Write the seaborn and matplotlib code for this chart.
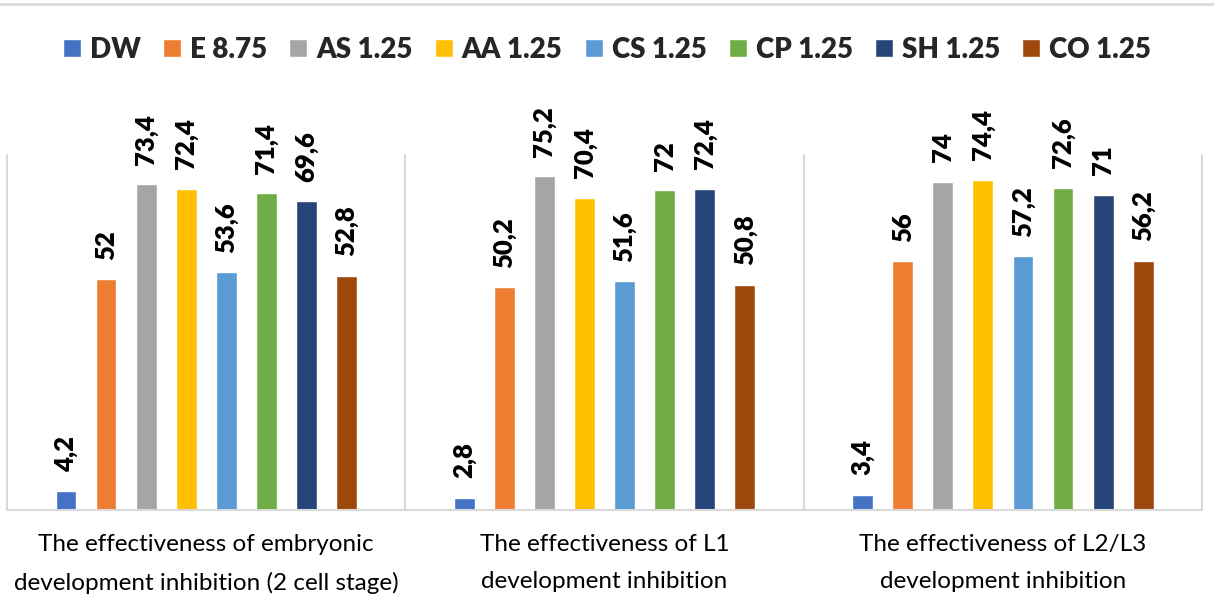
import matplotlib
matplotlib.use("Agg")
import matplotlib.pyplot as plt
from matplotlib.lines import Line2D
import seaborn as sns
import pandas as pd

stages = [
    "The effectiveness of embryonic\ndevelopment inhibition (2 cell stage)",
    "The effectiveness of L1\ndevelopment inhibition",
    "The effectiveness of L2/L3\ndevelopment inhibition",
]
treatments = ["DW", "E 8.75", "AS 1.25", "AA 1.25", "CS 1.25", "CP 1.25", "SH 1.25", "CO 1.25"]

dw = [4.2, 2.8, 3.4]
e875 = [52, 50.2, 56]
as125 = [73.4, 75.2, 74]
aa125 = [72.4, 70.4, 74.4]
cs125 = [53.6, 51.6, 57.2]
cp125 = [71.4, 72, 72.6]
sh125 = [69.6, 72.4, 71]
co125 = [52.8, 50.8, 56.2]

colors = ["#4472C4", "#ED7D31", "#A5A5A5", "#FFC000", "#5B9BD5", "#70AD47", "#264478", "#9E480E"]

series = [dw, e875, as125, aa125, cs125, cp125, sh125, co125]
rows = []
for name, vals in zip(treatments, series):
    for stage, v in zip(stages, vals):
        rows.append({"stage": stage, "treatment": name, "value": v})
df = pd.DataFrame(rows)

sns.set_theme(style="white")
plt.rcParams["font.family"] = ["Lato", "DejaVu Sans"]

fig = plt.figure(figsize=(12.14, 6.09), dpi=100)
ax = fig.add_axes([0.0058, 0.1626, 0.9844, 0.5829])

sns.barplot(data=df, x="stage", y="value", hue="treatment", order=stages,
            hue_order=treatments, palette=colors, saturation=1,
            width=0.805, gap=0.48, ax=ax, legend=True)

for cont, vals in zip(ax.containers, series):
    ax.bar_label(cont, labels=[f"{v:g}".replace(".", ",") for v in vals],
                 rotation=90, padding=14, fontsize=18.5, fontweight="heavy", color="black")

ax.set_xlim(-0.5, 2.5)
ax.set_ylim(0, 80)
ax.set_xlabel("")
ax.set_ylabel("")
ax.set_yticks([])
ax.tick_params(axis="x", length=0, pad=17, labelsize=17.5, colors="black")
for lbl in ax.get_xticklabels():
    lbl.set_linespacing(1.95)

for side in ["top", "right", "left"]:
    ax.spines[side].set_visible(False)
ax.spines["bottom"].set_color("#d9d9d9")
ax.spines["bottom"].set_linewidth(1.5)

for xpos in [-0.5, 0.5, 1.5, 2.5]:
    ax.axvline(xpos, ymin=0, ymax=1, color="#d9d9d9", lw=1.5, clip_on=False)

leg = ax.legend(loc="center", bbox_to_anchor=(0.5, 0.918), bbox_transform=fig.transFigure,
                ncol=8, frameon=False, prop={"family": "Lato", "weight": "heavy", "size": 20},
                handlelength=0.65, handleheight=0.65, handletextpad=0.32, columnspacing=0.8)

fig.add_artist(Line2D([0, 1], [0.993, 0.993], transform=fig.transFigure, color="#d9d9d9", lw=2))

fig.savefig("out.png", dpi=100)
